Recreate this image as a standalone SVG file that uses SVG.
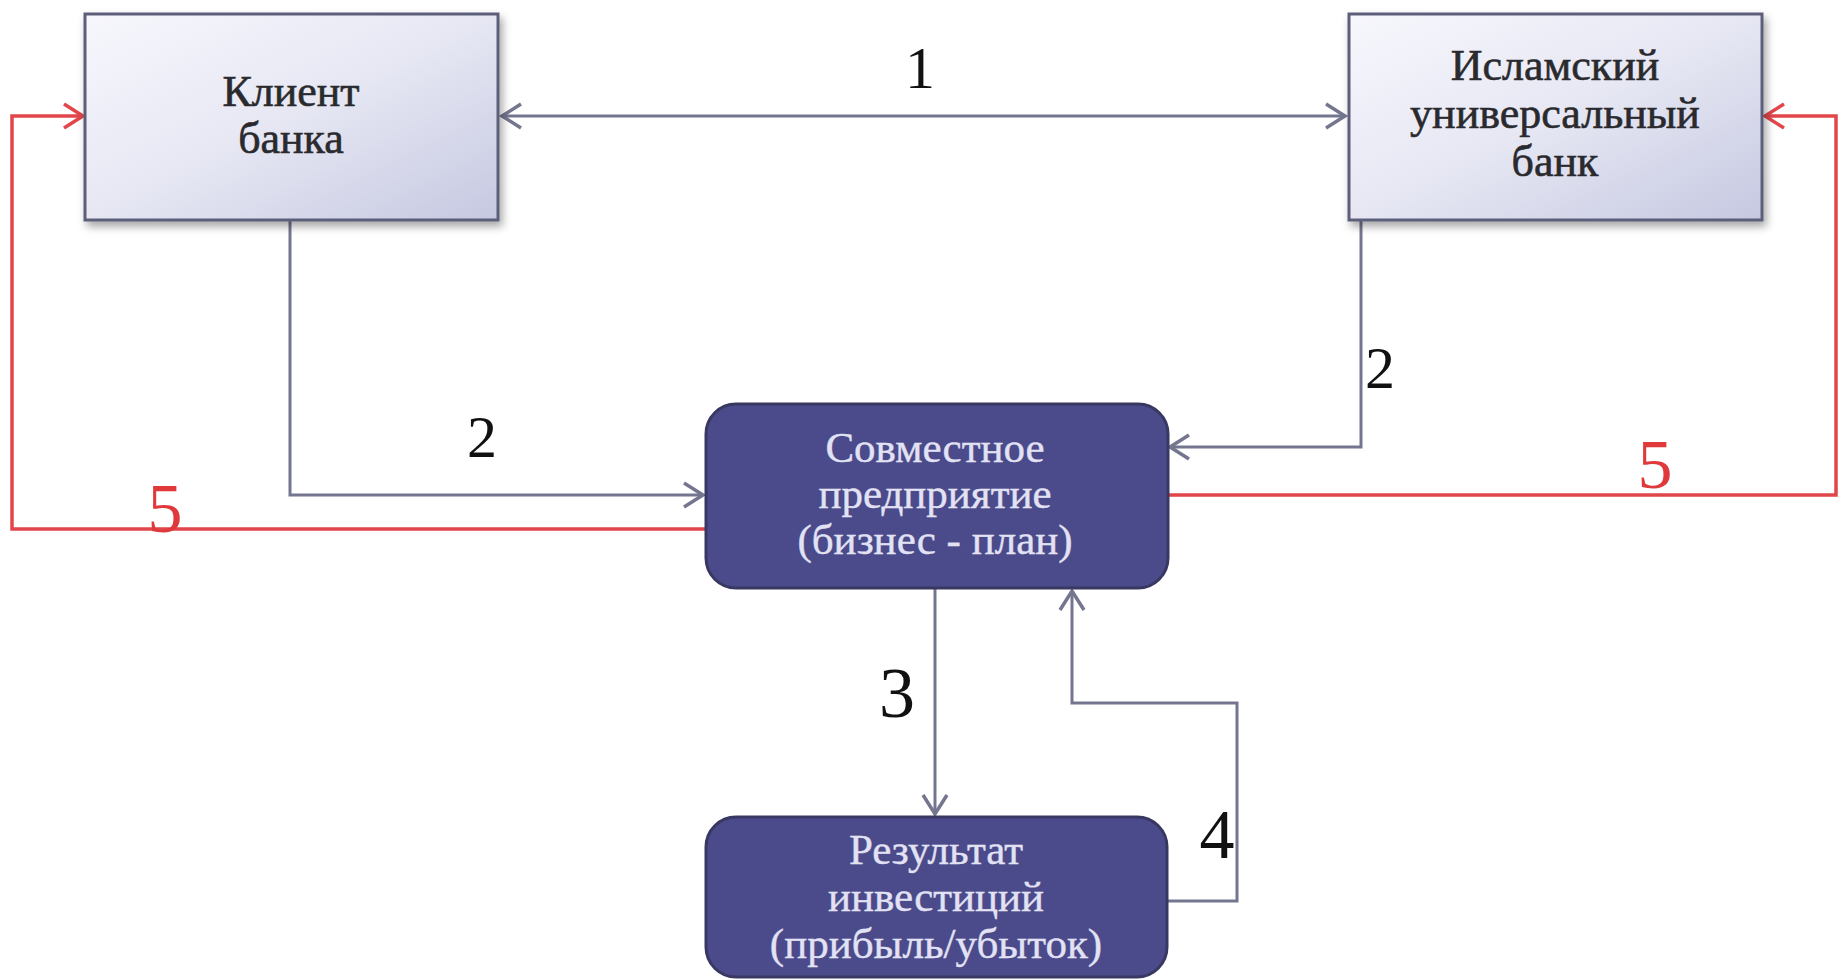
<svg xmlns="http://www.w3.org/2000/svg" width="1843" height="980" viewBox="0 0 1843 980">
<style>
.lt{font-family:"Liberation Serif","Times New Roman",serif;font-size:44px;fill:#2a2a2e;stroke:#2a2a2e;stroke-width:0.6;text-anchor:middle}
.dk{font-family:"Liberation Serif","Times New Roman",serif;font-size:43px;fill:#e2e2f4;stroke:#e2e2f4;stroke-width:0.4;text-anchor:middle}
.num{font-family:"Liberation Serif","Times New Roman",serif;fill:#111;text-anchor:middle}
.red{fill:#e0393c}
.c{fill:none;stroke:#74768f;stroke-width:3}
.r{fill:none;stroke:#e0464a;stroke-width:3.5}
.lbox{fill:url(#lg);stroke:#5c5e7a;stroke-width:3;filter:url(#sh)}
.dbox{fill:#4b4b8b;stroke:#383863;stroke-width:3}
</style>
<defs>
<linearGradient id="lg" x1="0" y1="0" x2="1" y2="1">
<stop offset="0" stop-color="#f7f7fd"/>
<stop offset="0.5" stop-color="#e6e7f3"/>
<stop offset="1" stop-color="#c6c8e1"/>
</linearGradient>
<filter id="sh" x="-10%" y="-10%" width="125%" height="130%">
<feDropShadow dx="3" dy="5" stdDeviation="4" flood-color="#000" flood-opacity="0.35"/>
</filter>
<marker id="ab" markerUnits="userSpaceOnUse" markerWidth="30" markerHeight="30" viewBox="-22 -15 26 30" refX="0" refY="0" orient="auto-start-reverse">
<path d="M-19,-12 L0,0 L-19,12" fill="none" stroke="#74768f" stroke-width="3.5"/>
</marker>
<marker id="ar" markerUnits="userSpaceOnUse" markerWidth="30" markerHeight="30" viewBox="-22 -15 26 30" refX="0" refY="0" orient="auto">
<path d="M-19,-12 L0,0 L-19,12" fill="none" stroke="#e0464a" stroke-width="3.5"/>
</marker>
</defs>
<rect width="1843" height="980" fill="#ffffff"/>
<g id="connectors">
<path class="c" d="M502,116 H1345" marker-start="url(#ab)" marker-end="url(#ab)"/>
<path class="r" d="M705,529 H12 V116 H83" marker-end="url(#ar)"/>
<path class="r" d="M1168,495 H1836 V116 H1765" marker-end="url(#ar)"/>
<path class="c" d="M290,221 V495 H703" marker-end="url(#ab)"/>
<path class="c" d="M1361,221 V447 H1170" marker-end="url(#ab)"/>
<path class="c" d="M935,589 V814" marker-end="url(#ab)"/>
<path class="c" d="M1168,901 H1237 V703 H1072 V591" marker-end="url(#ab)"/>
</g>
<g id="labels">
<text class="num" x="920" y="88" font-size="60">1</text>
<text class="num" x="482" y="457" font-size="60">2</text>
<text class="num" x="1380" y="388" font-size="60">2</text>
<text class="num" x="897" y="717" font-size="72">3</text>
<text class="num" x="1217" y="858" font-size="70">4</text>
<text class="num red" x="165" y="532" font-size="70">5</text>
<text class="num red" x="1655" y="488" font-size="70">5</text>
</g>
<g id="client">
<rect class="lbox" x="85" y="14" width="413" height="206"/>
<text class="lt" x="291" y="106">Клиент</text>
<text class="lt" x="291" y="153">банка</text>
</g>
<g id="bank">
<rect class="lbox" x="1349" y="14" width="413" height="206"/>
<text class="lt" x="1555" y="80">Исламский</text>
<text class="lt" x="1555" y="128">универсальный</text>
<text class="lt" x="1555" y="176">банк</text>
</g>
<g id="joint">
<rect class="dbox" x="706" y="404" width="462" height="184" rx="30"/>
<text class="dk" x="935" y="462">Совместное</text>
<text class="dk" x="935" y="508">предприятие</text>
<text class="dk" x="935" y="554">(бизнес - план)</text>
</g>
<g id="result">
<rect class="dbox" x="706" y="817" width="461" height="160" rx="30"/>
<text class="dk" x="936" y="864">Результат</text>
<text class="dk" x="936" y="911">инвестиций</text>
<text class="dk" x="936" y="958">(прибыль/убыток)</text>
</g>
</svg>
